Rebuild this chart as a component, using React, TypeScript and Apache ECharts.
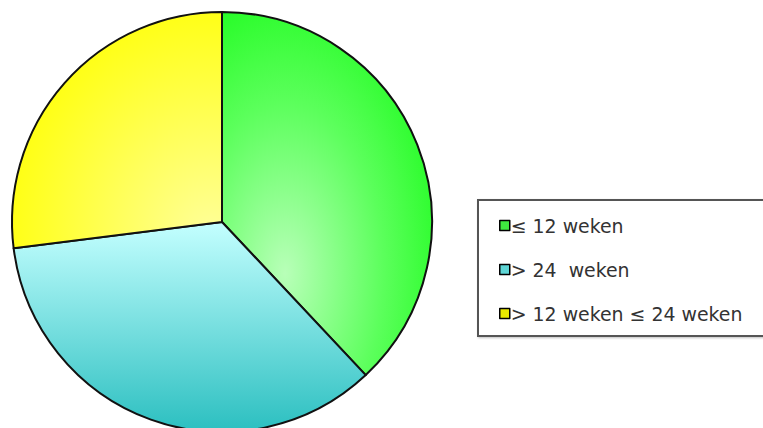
import React, { useEffect, useRef } from "react";
import * as echarts from "echarts";

const categories = ["≤ 12 weken", "> 24  weken", "> 12 weken ≤ 24 weken"];
const values = [38, 35, 27];
const legendColors = ["#3fe83f", "#5fd6d6", "#e8e800"];

const sliceColors = [
  {
    type: "radial",
    x: 0.3,
    y: 0.72,
    r: 0.85,
    colorStops: [
      { offset: 0, color: "#b8ffb8" },
      { offset: 0.55, color: "#5cff5c" },
      { offset: 1, color: "#1cfc1c" },
    ],
  },
  {
    type: "linear",
    x: 0,
    y: 0,
    x2: 0,
    y2: 1,
    colorStops: [
      { offset: 0, color: "#c4ffff" },
      { offset: 1, color: "#2bbfc0" },
    ],
  },
  {
    type: "radial",
    x: 0.95,
    y: 0.95,
    r: 1.0,
    colorStops: [
      { offset: 0, color: "#ffff9a" },
      { offset: 1, color: "#ffff10" },
    ],
  },
];

export default function App() {
  const ref = useRef<HTMLDivElement>(null);
  useEffect(() => {
    const chart = echarts.init(ref.current!, undefined, { renderer: "svg" });
    chart.setOption({
      animation: false,
      backgroundColor: "#ffffff",
      legend: {
        orient: "vertical",
        left: 478,
        top: 200,
        padding: [16, 22, 13, 21],
        itemGap: 25,
        itemWidth: 10,
        itemHeight: 10,
        icon: "rect",
        borderColor: "#555555",
        borderWidth: 2,
        shadowColor: "rgba(0,0,0,0.25)",
        shadowBlur: 2,
        shadowOffsetX: 1,
        shadowOffsetY: 1,
        backgroundColor: "#ffffff",
        textStyle: {
          fontFamily: "DejaVu Sans",
          fontSize: 18.9,
          color: "#333333",
          padding: [0, 0, 0, -4],
        },
        data: categories.map((c, i) => ({
          name: c,
          itemStyle: { color: legendColors[i], borderColor: "#000", borderWidth: 1.5 },
        })),
      },
      series: [
        {
          type: "pie",
          center: [222, 222],
          radius: 210,
          startAngle: 90,
          clockwise: true,
          label: { show: false },
          labelLine: { show: false },
          emphasis: { disabled: true },
          itemStyle: { borderColor: "#111111", borderWidth: 2 },
          data: categories.map((c, i) => ({
            name: c,
            value: values[i],
            itemStyle: { color: sliceColors[i] },
          })),
        },
      ],
    });
    return () => chart.dispose();
  }, []);
  return (
    <div
      ref={ref}
      style={{ position: "fixed", left: 0, top: 0, width: 763, height: 428 }}
    />
  );
}
